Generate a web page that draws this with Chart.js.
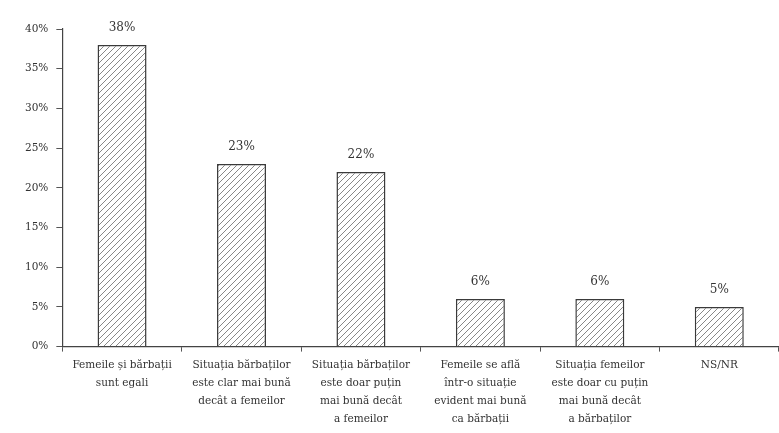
<!DOCTYPE html>
<html>
<head>
<meta charset="utf-8">
<script src="https://cdn.jsdelivr.net/npm/chart.js@4"></script>
<style>
  html, body { margin: 0; padding: 0; background: #fff; }
  #wrap { width: 779px; height: 433px; }
</style>
</head>
<body>
<div id="wrap"><canvas id="chart"></canvas></div>
<script>
const categories = [
    ['Femeile și bărbații', 'sunt egali'],
    ['Situația bărbaților', 'este clar mai bună', 'decât a femeilor'],
    ['Situația bărbaților', 'este doar puțin', 'mai bună decât', 'a femeilor'],
    ['Femeile se află', 'într-o situație', 'evident mai bună', 'ca bărbații'],
    ['Situația femeilor', 'este doar cu puțin', 'mai bună decât', 'a bărbaților'],
    'NS/NR'
];
const values = [38, 23, 22, 6, 6, 5];
const yTicks = [0, 5, 10, 15, 20, 25, 30, 35, 40];

// diagonal hatching like the sketch
function hatch() {
    const c = document.createElement('canvas');
    c.width = 6; c.height = 6;
    const g = c.getContext('2d');
    g.fillStyle = '#ffffff';
    g.fillRect(0, 0, 6, 6);
    g.strokeStyle = '#7a7a7a';
    g.lineWidth = 0.9;
    g.beginPath();
    g.moveTo(0, 6); g.lineTo(6, 0);
    g.moveTo(-1, 1); g.lineTo(1, -1);
    g.moveTo(5, 7); g.lineTo(7, 5);
    g.stroke();
    return g.createPattern(c, 'repeat');
}

const valueLabels = {
    id: 'valueLabels',
    afterDatasetsDraw(chart) {
        const ctx = chart.ctx;
        const meta = chart.getDatasetMeta(0);
        ctx.save();
        ctx.font = '12px "DejaVu Serif"';
        ctx.fillStyle = '#333';
        ctx.textAlign = 'center';
        ctx.textBaseline = 'bottom';
        meta.data.forEach((bar, i) => {
            ctx.fillText(values[i] + '%', bar.x, bar.y - 11);
        });
        ctx.restore();
    }
};

const ctx = document.getElementById('chart');

new Chart(ctx, {
    type: 'bar',
    data: {
        labels: categories,
        datasets: [{
            data: values,
            backgroundColor: hatch(),
            borderColor: '#3a3a3a',
            borderWidth: 1.5,
            barPercentage: 0.41,
            categoryPercentage: 1
        }]
    },
    options: {
        responsive: true,
        maintainAspectRatio: false,
        animation: false,
        layout: { padding: { top: 29, right: 0, left: 17, bottom: 0 } },
        plugins: {
            legend: { display: false },
            tooltip: { enabled: false }
        },
        scales: {
            x: {
                border: { color: '#444', width: 1.2 },
                grid: { drawOnChartArea: false, drawTicks: true, tickLength: 5, color: '#555', offset: true },
                ticks: {
                    color: '#333',
                    font: { family: 'DejaVu Serif', size: 10.5, lineHeight: 1.7 },
                    maxRotation: 0,
                    autoSkip: false,
                    padding: 5
                }
            },
            y: {
                min: 0,
                max: 40,
                afterBuildTicks(axis) {
                    axis.ticks = yTicks.map(v => ({ value: v }));
                },
                border: { color: '#444', width: 1.2 },
                grid: { drawOnChartArea: false, drawTicks: true, tickLength: 6, color: '#555' },
                ticks: {
                    color: '#333',
                    font: { family: 'DejaVu Serif', size: 10.5 },
                    padding: 8,
                    callback: v => v + '%'
                }
            }
        }
    },
    plugins: [valueLabels]
});
</script>
</body>
</html>
